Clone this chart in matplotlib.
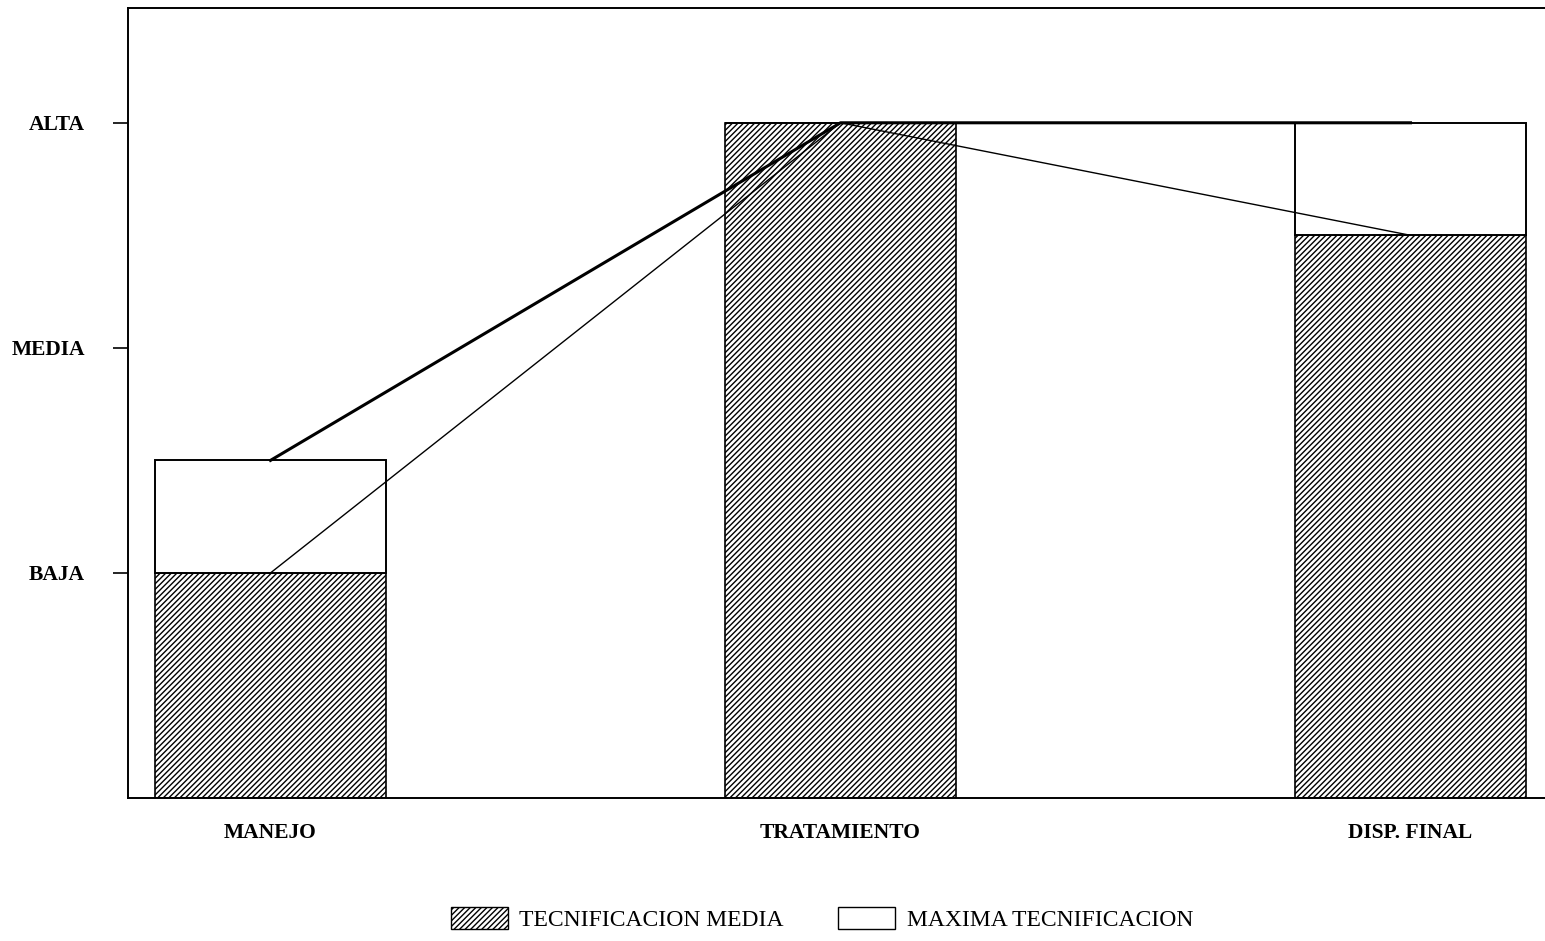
import numpy as np
import matplotlib.pyplot as plt
from matplotlib.patches import Patch

# Niveles de tecnificacion por etapa (0 = nada, 1 = BAJA, 2 = MEDIA, 3 = ALTA)
etapas = ['MANEJO', 'TRATAMIENTO', 'DISP. FINAL']
tec_media = [1.0, 3.0, 2.5]
tec_maxima = [1.5, 3.0, 3.0]
niveles = [1, 2, 3]
nombres_niveles = ['BAJA', 'MEDIA', 'ALTA']

plt.rcParams['font.family'] = ['Liberation Serif', 'DejaVu Serif']
plt.rcParams['hatch.linewidth'] = 1.0

fig = plt.figure(figsize=(15.45, 9.41), dpi=100)
ax = fig.add_axes([128 / 1545, 1 - 798 / 941, (1553 - 128) / 1545, (798 - 8) / 941])

x = np.arange(len(etapas))
media = np.array(tec_media)
maxima = np.array(tec_maxima)

# barras rayadas (media) y blancas encima hasta el maximo
ax.bar(x, media, width=0.405, color='white', edgecolor='black', hatch='//////', linewidth=1.2, zorder=2)
ax.bar(x, maxima - media, bottom=media, width=0.405, color='white', edgecolor='black', linewidth=1.4, zorder=2)

# lineas que unen los centros
ax.plot(x, maxima, color='black', linewidth=2.2, zorder=3)
ax.plot(x, media, color='black', linewidth=1.0, zorder=3)

ax.set_xlim(-0.25, 2.25)
ax.set_ylim(0, 3.51)
ax.set_yticks(niveles)
ax.set_yticklabels(nombres_niveles, fontsize=15.5, fontweight='bold')
ax.set_xticks(x)
ax.set_xticklabels(etapas, fontsize=15.5, fontweight='bold')
ax.tick_params(axis='y', direction='out', length=11, width=1.2, pad=20)
ax.tick_params(axis='x', length=0, pad=18)
for s in ax.spines.values():
    s.set_linewidth(1.4)

handles = [Patch(facecolor='white', edgecolor='black', hatch='//////', label='TECNIFICACION MEDIA'),
           Patch(facecolor='white', edgecolor='black', label='MAXIMA TECNIFICACION')]
fig.legend(handles=handles, loc='lower center', bbox_to_anchor=(0.532, -0.012), ncol=2,
           frameon=False, fontsize=17, handlelength=2.4, handleheight=1.1, columnspacing=2.3,
           handletextpad=0.5)

fig.savefig('out.png', dpi=100)
